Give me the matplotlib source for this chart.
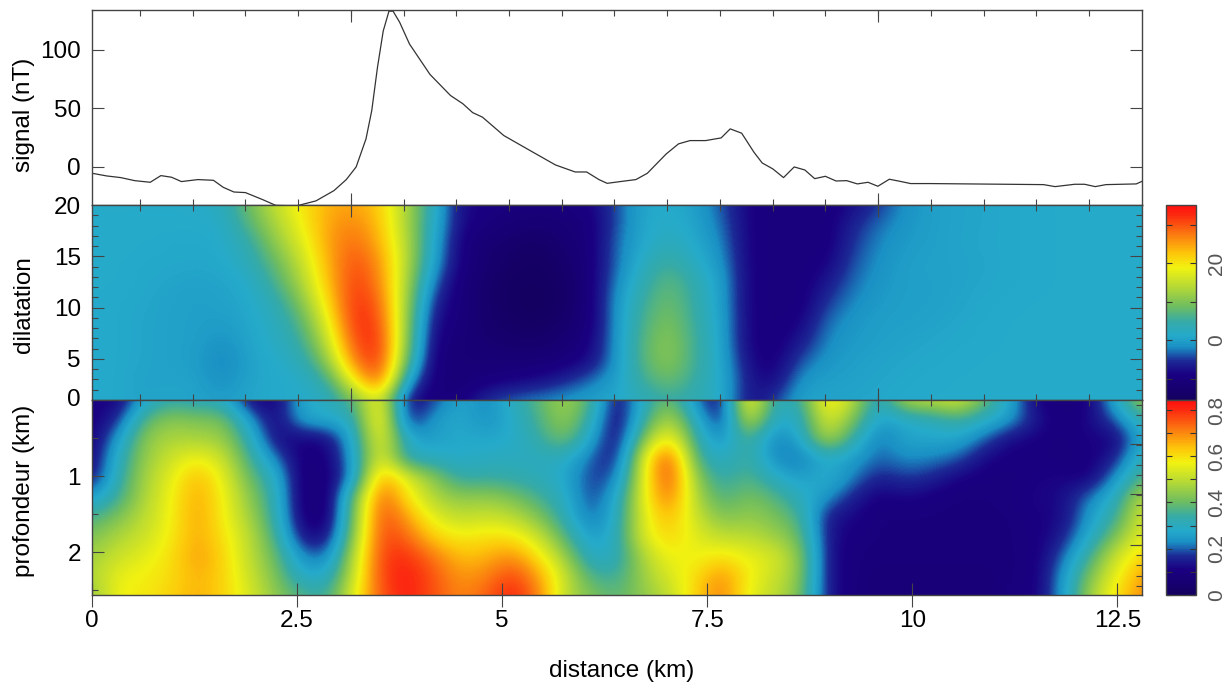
import numpy as np
import matplotlib
matplotlib.use('Agg')
import matplotlib.pyplot as plt
from matplotlib.colors import LinearSegmentedColormap

plt.rcParams['font.family'] = ['Liberation Sans', 'DejaVu Sans']

# signal
signal_km = [0, .18, .35, .52, .71, .84, .97, 1.09, 1.29, 1.48, 1.6, 1.73, 1.87, 2.08, 2.24, 2.49, 2.73, 2.95,
             3.1, 3.22, 3.34, 3.41, 3.48, 3.55, 3.62, 3.67, 3.75, 3.87, 4.12, 4.37, 4.52, 4.64, 4.76, 5.02, 5.34,
             5.65, 5.89, 6.03, 6.18, 6.28, 6.44, 6.63, 6.77, 7.0, 7.15, 7.29, 7.48, 7.67, 7.78, 7.92, 8.07, 8.17,
             8.3, 8.43, 8.56, 8.69, 8.81, 8.94, 9.07, 9.2, 9.33, 9.46, 9.58, 9.72, 9.83, 9.98, 10.21, 10.68,
             11.15, 11.6, 11.74, 11.98, 12.1, 12.23, 12.36, 12.73, 12.8]
signal_nt = [-5.4, -7.7, -9.1, -11.7, -13.1, -7.4, -8.8, -12.5, -10.8, -11.4, -17.4, -21.4, -21.9, -27.9, -32.8,
             -33.3, -29, -20.2, -10.8, 0, 23.9, 48, 85, 116, 133, 133, 123.6, 105, 79, 61, 54, 46.4, 42.5, 26.8,
             14, 1.7, -4.3, -4.3, -10.8, -14, -12.5, -10.8, -5.4, 11.1, 19.7, 22.5, 22.5, 24.8, 32.5, 28.8, 12.5,
             3.4, -1.7, -9.1, 0, -2.6, -10, -8, -12, -11.7, -14.5, -13.1, -16.5, -10.5, -12, -14.2, -14.2, -14.5,
             -14.8, -15.1, -16.8, -14.8, -14.8, -16.8, -15.1, -14.5, -12.3]

# 41 columns over 0..12.8 km, rows from dilatation 20 down to 1
dilatation_rows = [
    [1.5, 1.5, 1.5, 1.5, 1.5, 2.5, 9, 15, 20, 24, 25, 22, 13, 3, -8, -9, -10, -10, -10, -9, -4, .8, 1.5, 0, -4, -9, -10, -10, -10, -8, -5, -1.5, 0, .4, .7, 1, 1.2, 1.3, 1.4, 1.4, 1.5],
    [1.4, 1.4, 1.4, 1.4, 1.4, 1.4, 7, 13, 19, 25, 27, 23, 13, 2, -8, -10, -11, -12, -11, -10, -4, 1, 2, .5, -3, -9, -10, -10, -10, -6, -3, -1, 0, .4, .7, 1, 1.2, 1.3, 1.3, 1.4, 1.4],
    [1.4, 1.4, 1.3, 1, 1, 1.3, 4, 11, 17, 25, 29, 24, 14, 1, -9, -12, -13, -14, -12, -10, -3, 1.2, 3, 1.2, -2, -9, -10, -10, -10, -5, -2, -.5, 0, .5, .8, 1, 1.2, 1.3, 1.3, 1.3, 1.4],
    [1.4, 1.3, 1, 1, .8, 1, 3, 8, 15, 24, 31, 26, 14, 0, -9, -12, -14, -15, -13, -10, -3, 2.5, 6, 2, -1, -9, -10, -10, -9, -4, -1.5, 0, .2, .3, .6, 1, 1.2, 1.3, 1.3, 1.3, 1.3],
    [1.3, 1.3, 1, .5, .2, .5, 1.3, 6, 13, 23, 32, 27, 13, -3, -10, -13, -15, -15, -14, -10, -2, 4, 8, 4, 0, -9, -10, -10, -7, -3, -1, 0, 0, .3, .8, 1, 1.2, 1.3, 1.3, 1.3, 1.3],
    [1.3, 1.1, .8, .2, 0, .2, 1, 3.5, 10, 21, 33, 29, 12, -6, -10, -13, -15, -16, -14, -10, -1, 5.5, 9, 4.5, 0, -9, -10, -10, -5, -2, -.5, 0, 0, .5, 1, 1.2, 1.3, 1.3, 1.3, 1.3, 1.3],
    [1.3, 1.1, .6, .2, 0, -.3, .8, 2.5, 7, 18, 33, 31, 11, -8, -10, -13, -14, -15, -13, -10, -1, 6.5, 10, 5, .5, -9, -10, -9, -3, -1, 0, 0, .3, .8, 1.1, 1.3, 1.3, 1.3, 1.3, 1.3, 1.3],
    [1.3, 1.1, .6, .2, 0, -1.5, .6, 2, 5, 15, 31, 33, 10, -9, -11, -12, -13, -13, -12, -9, -1, 7.5, 11, 5.5, .5, -9, -10, -7, -2, -.5, 0, .3, .8, 1, 1.2, 1.3, 1.3, 1.3, 1.3, 1.3, 1.3],
    [1.3, 1.1, .6, .2, -.2, -2.8, .4, 1.3, 3, 11, 28, 33, 8, -10, -11, -11, -11, -11, -10, -8, -1, 7.5, 11, 5.5, 1, -8, -10, -4, -1, 0, .4, .8, 1, 1.2, 1.3, 1.3, 1.3, 1.3, 1.3, 1.3, 1.3],
    [1.3, 1.1, .2, .5, .2, -1.8, .5, 1.2, 1.5, 5, 20, 31, 0, -10, -11, -10, -9, -8, -6, -3, 0, 5.5, 9, 4.5, 1.5, -7, -9, -1, 0, .2, .6, 1, 1.2, 1.3, 1.3, 1.3, 1.3, 1.3, 1.3, 1.3, 1.3],
    [1.3, 1, .5, .8, .4, -.3, .8, 1.2, 1.3, 2, 9, 19, -8, -10, -10, -5, -3, -2, -1, 0, 1, 3, 5, 3.5, 2, -8, -5, .5, .5, .6, 1, 1.2, 1.3, 1.3, 1.3, 1.3, 1.3, 1.3, 1.3, 1.3, 1.3],
]

# same columns, rows from depth 0 to 2.55 km
depth_rows = [
    [.12, .10, .27, .33, .30, .30, .12, .10, .28, .30, .38, .62, .12, .17, .28, .22, .30, .38, .47, .38, .10, .30, .42, .22, .10, .64, .30, .33, .62, .50, .27, .50, .50, .55, .40, .27, .10, .09, .10, .28, .47],
    [.10, .16, .38, .44, .42, .42, .25, .10, .27, .28, .30, .66, .12, .25, .28, .23, .28, .36, .46, .33, .09, .33, .50, .30, .12, .55, .28, .29, .56, .42, .25, .28, .30, .35, .30, .25, .14, .09, .12, .20, .33],
    [.10, .25, .44, .48, .47, .46, .32, .12, .11, .12, .28, .60, .28, .25, .28, .27, .28, .33, .42, .27, .10, .42, .62, .33, .22, .38, .20, .27, .50, .33, .20, .27, .27, .27, .20, .12, .11, .09, .12, .10, .28],
    [.11, .30, .45, .52, .58, .52, .36, .22, .09, .10, .26, .58, .30, .30, .28, .30, .30, .30, .30, .20, .13, .55, .80, .36, .28, .36, .22, .20, .28, .25, .20, .23, .22, .20, .12, .10, .10, .09, .10, .15, .33],
    [.13, .32, .47, .55, .66, .56, .40, .30, .08, .09, .24, .70, .55, .44, .33, .34, .33, .31, .28, .17, .20, .55, .80, .44, .32, .38, .30, .25, .30, .22, .15, .18, .16, .11, .10, .09, .11, .12, .10, .24, .38],
    [.25, .35, .48, .57, .67, .58, .44, .32, .08, .08, .40, .76, .60, .48, .44, .45, .42, .36, .30, .17, .27, .56, .74, .48, .36, .42, .38, .30, .24, .15, .10, .12, .10, .09, .09, .10, .12, .12, .22, .30, .50],
    [.36, .42, .50, .57, .68, .58, .47, .33, .09, .08, .42, .78, .68, .55, .50, .52, .50, .43, .32, .19, .29, .55, .66, .52, .42, .45, .42, .36, .14, .12, .09, .09, .09, .09, .09, .09, .11, .12, .25, .34, .54],
    [.42, .48, .52, .58, .67, .60, .50, .36, .13, .12, .45, .78, .74, .62, .58, .60, .60, .52, .38, .24, .30, .55, .62, .55, .50, .50, .46, .40, .14, .10, .09, .09, .09, .09, .09, .09, .10, .15, .28, .42, .56],
    [.46, .52, .55, .60, .68, .62, .50, .40, .22, .20, .50, .78, .80, .72, .64, .65, .70, .60, .46, .28, .30, .48, .58, .56, .60, .56, .54, .44, .14, .09, .09, .09, .09, .09, .09, .09, .10, .20, .35, .52, .62],
    [.48, .56, .58, .60, .66, .62, .52, .42, .28, .28, .52, .78, .82, .76, .68, .70, .78, .68, .52, .36, .34, .46, .54, .60, .70, .58, .52, .44, .14, .09, .08, .08, .08, .08, .08, .09, .10, .24, .42, .56, .68],
    [.44, .58, .58, .62, .66, .62, .54, .44, .37, .34, .56, .76, .82, .76, .70, .74, .82, .72, .50, .42, .38, .44, .50, .62, .72, .56, .50, .42, .14, .09, .08, .08, .08, .08, .08, .10, .10, .25, .46, .60, .70],
]

colour_stops = [(0, '#14005f'), (.13, '#1a0082'), (.2, '#1c2a96'), (.27, '#1a90c4'), (.33, '#25aacb'),
                (.40, '#35aaa8'), (.48, '#6fbd60'), (.58, '#b5d935'), (.68, '#f2f211'), (.75, '#fdc80a'),
                (.85, '#fb7a10'), (.95, '#fc2a10'), (1, '#ff0f0f')]
cmap = LinearSegmentedColormap.from_list('signal', colour_stops)

W, H = 1226, 684
edge = '#444444'
fs = 17.5


def px_axes(x0, y0, x1, y1):
    ax = fig.add_axes([x0 / W, 1 - y1 / H, (x1 - x0) / W, (y1 - y0) / H])
    for s in ax.spines.values():
        s.set_color(edge)
        s.set_linewidth(1)
    return ax


fig = plt.figure(figsize=(W / 100, H / 100), dpi=100)

# ticks along the panel joins do not line up with the km scale
join_major = [3.16, 9.585]
join_minor = [.585 + .6427 * i for i in range(19)]

ax1 = px_axes(92, 10, 1142, 205)
ax2 = px_axes(92, 205, 1142, 400)
ax3 = px_axes(92, 400, 1142, 595)

ax1.plot(signal_km, signal_nt, color='#333333', lw=.9)
ax1.set_ylim(-32.5, 134)
ax1.set_yticks([0, 50, 100])

ax2.imshow(dilatation_rows, cmap=cmap, vmin=-15.6, vmax=35.2, aspect='auto', interpolation='bicubic',
           interpolation_stage='data', extent=(-.16, 12.96, .05, 20.95))
ax2.set_ylim(1, 20)
ax2.set_yticks([5, 10, 15])
ax2.set_yticks(range(2, 20), minor=True)

im3 = ax3.imshow(depth_rows, cmap=cmap, vmin=0, vmax=.843, aspect='auto', interpolation='bicubic',
                 interpolation_stage='data', extent=(-.16, 12.96, 2.69, -.13))
ax3.set_ylim(2.56, 0)
ax3.set_yticks([1, 2])
ax3.set_yticks([.5, 1.5, 2.5], minor=True)

for ax in (ax1, ax2):
    ax.set_xticks(join_major)
    ax.set_xticks(join_minor, minor=True)
    ax.tick_params(which='major', axis='x', top=True, bottom=True, direction='in', length=8.5, width=.8,
                   color=edge, labelbottom=False)
    ax.tick_params(which='minor', axis='x', top=True, bottom=True, direction='in', length=4.5, width=.8, color=edge)
for ax in (ax1, ax2, ax3):
    ax.set_xlim(0, 12.8)
    ax.tick_params(axis='y', which='major', direction='in', length=8.5, width=.8, color=edge, labelsize=fs, pad=8,
                   right=ax is not ax3)
    ax.tick_params(axis='y', which='minor', direction='in', length=4, width=.8, color=edge, right=ax is not ax3)

ax2.text(-.011, 1.0, '0', transform=ax2.get_yaxis_transform(), ha='right', va='center', fontsize=fs)
ax2.text(-.011, 19.7, '20', transform=ax2.get_yaxis_transform(), ha='right', va='center', fontsize=fs)

ax3.set_xticks([0, 2.5, 5, 7.5, 10, 12.5], ['0', '2.5', '5', '7.5', '10', '12.5'])
ax3.tick_params(axis='x', direction='inout', length=17, width=.8, color=edge, labelsize=fs, pad=2.5)

top3 = ax3.secondary_xaxis('top')
top3.set_xticks(join_major)
top3.set_xticks(join_minor, minor=True)
top3.tick_params(which='major', direction='in', length=8.5, width=.8, color=edge, labeltop=False)
top3.tick_params(which='minor', direction='in', length=4.5, width=.8, color=edge)
top3.spines['top'].set_visible(False)

right3 = ax3.secondary_yaxis('right')
right3.set_yticks([.58, 1.24, 1.9])
right3.set_yticks([.06 + .132 * i for i in range(19)], minor=True)
right3.tick_params(which='major', direction='in', length=8.5, width=.8, color=edge, labelright=False)
right3.tick_params(which='minor', direction='in', length=4.5, width=.8, color=edge)
right3.spines['right'].set_visible(False)

fig.text(24 / W, 1 - 115 / H, 'signal (nT)', rotation=90, ha='center', va='center', fontsize=fs)
fig.text(24 / W, 1 - 305 / H, 'dilatation', rotation=90, ha='center', va='center', fontsize=fs)
fig.text(24 / W, 1 - 491 / H, 'profondeur (km)', rotation=90, ha='center', va='center', fontsize=fs)
fig.text(622 / W, 1 - 671 / H, 'distance (km)', ha='center', va='center', fontsize=fs)

# colour bars
cax1 = px_axes(1166, 205, 1196, 400)
cax3 = px_axes(1166, 400, 1196, 595)
bar_top = fig.colorbar(ax2.images[0], cax=cax1)
bar_bot = fig.colorbar(im3, cax=cax3)
bar_top.set_ticks([-10, 0, 10, 20, 30], labels=['', '0', '', '20', ''])
bar_bot.set_ticks([0, .1, .2, .3, .4, .5, .6, .7, .8], labels=['0', '', '0.2', '', '0.4', '', '0.6', '', '0.8'])
for bar in (bar_top, bar_bot):
    bar.outline.set_edgecolor(edge)
    bar.outline.set_linewidth(1)
    bar.ax.tick_params(which='both', left=True, right=True, direction='in', length=4, width=.8, color='#333333',
                       labelsize=15, labelcolor='#555555', pad=8)
    for t in bar.ax.get_yticklabels():
        t.set_rotation(90)
        t.set_va('center')

fig.savefig('out.png', dpi=100)
